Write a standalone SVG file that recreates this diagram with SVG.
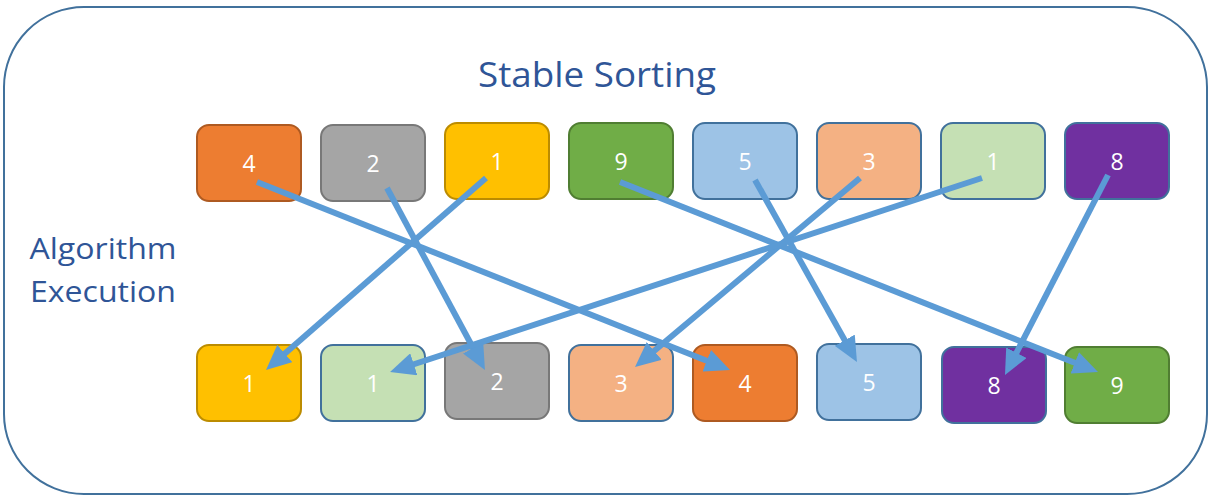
<svg xmlns="http://www.w3.org/2000/svg" width="1212" height="503" viewBox="0 0 1212 503">
<defs>
<style>
.box{stroke-width:2}
.num{font-family:"Open Sans","Noto Sans",sans-serif;font-size:23px;fill:#fff;text-anchor:middle;dominant-baseline:central}
.lbl{font-family:"Open Sans","Noto Sans",sans-serif;fill:#2F5597;text-anchor:middle}
.arr{stroke:#5B9BD5;stroke-width:6;fill:none;marker-end:url(#ah)}
.or{fill:#ED7D31;stroke:#AE5A21}
.gr{fill:#A5A5A5;stroke:#787878}
.ye{fill:#FFC000;stroke:#BC8C00}
.gn{fill:#70AD47;stroke:#507E32}
.lb{fill:#9DC3E6;stroke:#41719C}
.pe{fill:#F4B183;stroke:#41719C}
.lg{fill:#C5E0B4;stroke:#41719C}
.pu{fill:#7030A0;stroke:#41719C}
</style>
<marker id="ah" markerUnits="userSpaceOnUse" markerWidth="25" markerHeight="23" viewBox="0 0 25 23" refX="4" refY="11.5" orient="auto">
<path d="M0,0 L25,11.5 L0,23 z" fill="#5B9BD5"/>
</marker>
</defs>
<rect id="frame" x="4" y="7" width="1203" height="487" rx="80" ry="80" fill="#fff" stroke="#41719C" stroke-width="2"/>
<text id="title" class="lbl" x="597" y="87" font-size="35" textLength="238" lengthAdjust="spacingAndGlyphs">Stable Sorting</text>
<g id="label-exec">
<text class="lbl" x="103" y="259" font-size="30" textLength="147" lengthAdjust="spacingAndGlyphs">Algorithm</text>
<text class="lbl" x="103" y="302" font-size="30" textLength="146" lengthAdjust="spacingAndGlyphs">Execution</text>
</g>
<g id="top-4"><rect class="box or" x="197" y="125" width="104" height="76" rx="12"/><text class="num" x="249" y="163">4</text></g>
<g id="top-2"><rect class="box gr" x="321" y="125" width="104" height="76" rx="12"/><text class="num" x="373" y="163">2</text></g>
<g id="top-1a"><rect class="box ye" x="445" y="123" width="104" height="76" rx="12"/><text class="num" x="497" y="161">1</text></g>
<g id="top-9"><rect class="box gn" x="569" y="123" width="104" height="76" rx="12"/><text class="num" x="621" y="161">9</text></g>
<g id="top-5"><rect class="box lb" x="693" y="123" width="104" height="76" rx="12"/><text class="num" x="745" y="161">5</text></g>
<g id="top-3"><rect class="box pe" x="817" y="123" width="104" height="76" rx="12"/><text class="num" x="869" y="161">3</text></g>
<g id="top-1b"><rect class="box lg" x="941" y="123" width="104" height="76" rx="12"/><text class="num" x="993" y="161">1</text></g>
<g id="top-8"><rect class="box pu" x="1065" y="123" width="104" height="76" rx="12"/><text class="num" x="1117" y="161">8</text></g>
<g id="bot-1a"><rect class="box ye" x="197" y="345" width="104" height="76" rx="12"/><text class="num" x="249" y="383">1</text></g>
<g id="bot-1b"><rect class="box lg" x="321" y="345" width="104" height="76" rx="12"/><text class="num" x="373" y="383">1</text></g>
<g id="bot-2"><rect class="box gr" x="445" y="343" width="104" height="76" rx="12"/><text class="num" x="497" y="381">2</text></g>
<g id="bot-3"><rect class="box pe" x="569" y="345" width="104" height="76" rx="12"/><text class="num" x="621" y="383">3</text></g>
<g id="bot-4"><rect class="box or" x="693" y="345" width="104" height="76" rx="12"/><text class="num" x="745" y="383">4</text></g>
<g id="bot-5"><rect class="box lb" x="817" y="344" width="104" height="76" rx="12"/><text class="num" x="869" y="382">5</text></g>
<g id="bot-8"><rect class="box pu" x="942" y="347" width="104" height="76" rx="12"/><text class="num" x="994" y="385">8</text></g>
<g id="bot-9"><rect class="box gn" x="1065" y="347" width="104" height="76" rx="12"/><text class="num" x="1117" y="385">9</text></g>
<g id="connectors">
<line class="arr" x1="257" y1="182" x2="710.5" y2="362.2"/>
<line class="arr" x1="387" y1="188" x2="475" y2="351.5"/>
<line class="arr" x1="486" y1="178" x2="281.8" y2="356.2"/>
<line class="arr" x1="620" y1="182" x2="1078.5" y2="364.3"/>
<line class="arr" x1="755" y1="180" x2="846.7" y2="343.7"/>
<line class="arr" x1="860" y1="178" x2="651.1" y2="353.5"/>
<line class="arr" x1="982" y1="178" x2="410" y2="365.5"/>
<line class="arr" x1="1108" y1="175" x2="1014.6" y2="356.3"/>
</g>
</svg>
